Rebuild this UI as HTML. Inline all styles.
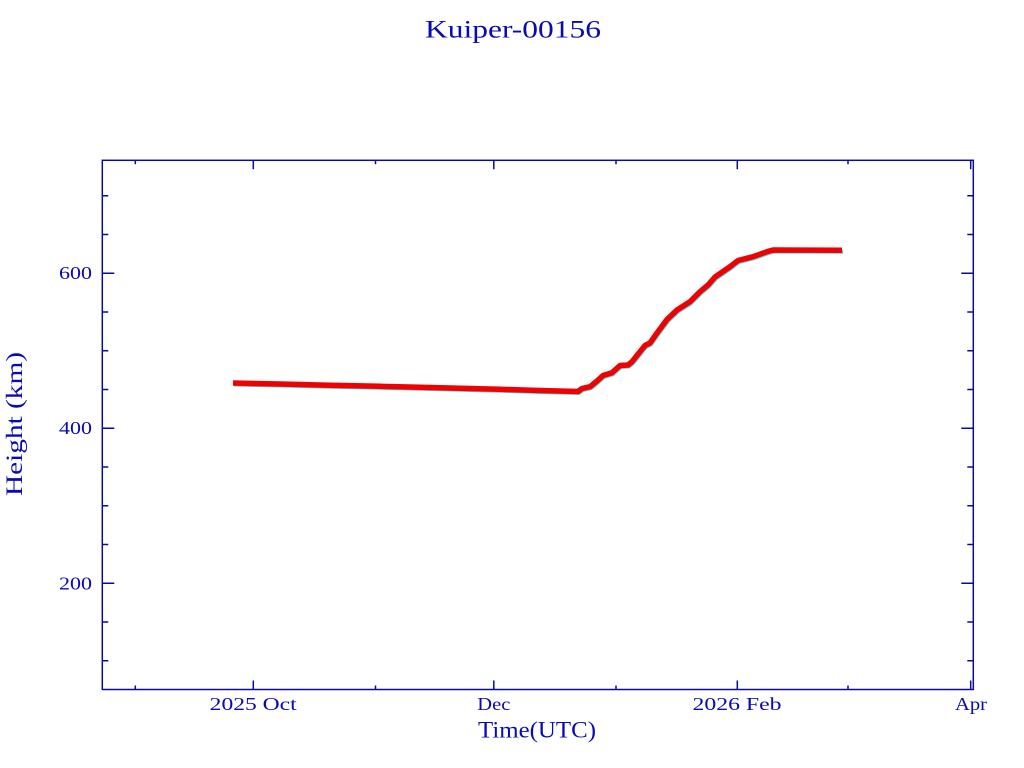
<!DOCTYPE html>
<html>
<head>
<meta charset="utf-8">
<style>
  html,body{margin:0;padding:0;background:#fff;}
  svg{display:block;}
  text{font-family:"Liberation Serif",serif;fill:#0a0ab4;}
</style>
</head>
<body>
<svg width="1024" height="768" viewBox="0 0 1024 768" xmlns="http://www.w3.org/2000/svg">
  <rect width="1024" height="768" fill="#fff"/>
  <!-- title -->
  <text x="425" y="37.5" font-size="25" textLength="176" lengthAdjust="spacingAndGlyphs" fill="#1010c8">Kuiper-00156</text>

  <!-- frame -->
  <g stroke="#0a0aa0" stroke-width="1.5" fill="none">
    <rect x="102.3" y="160.3" width="871" height="529.2"/>
    <!-- left y ticks -->
    <path d="M102.3 195.8h6 M102.3 234.5h6 M102.3 273.3h12 M102.3 312h6 M102.3 350.8h6 M102.3 389.5h6 M102.3 428.3h12 M102.3 467h6 M102.3 505.8h6 M102.3 544.5h6 M102.3 583.3h12 M102.3 622h6 M102.3 660.8h6"/>
    <!-- right y ticks -->
    <path d="M973.3 195.8h-6 M973.3 234.5h-6 M973.3 273.3h-12 M973.3 312h-6 M973.3 350.8h-6 M973.3 389.5h-6 M973.3 428.3h-12 M973.3 467h-6 M973.3 505.8h-6 M973.3 544.5h-6 M973.3 583.3h-12 M973.3 622h-6 M973.3 660.8h-6"/>
    <!-- bottom x ticks -->
    <path d="M135.3 689.5v-4 M253.3 689.5v-9 M375.5 689.5v-4 M493.8 689.5v-9 M616 689.5v-4 M737.3 689.5v-9 M848 689.5v-4 M970.7 689.5v-9"/>
    <!-- top x ticks -->
    <path d="M135.3 160.3v4 M253.3 160.3v9 M375.5 160.3v4 M493.8 160.3v9 M616 160.3v4 M737.3 160.3v9 M848 160.3v4 M970.7 160.3v9"/>
  </g>

  <!-- y tick labels -->
  <text x="59" y="279" font-size="18" textLength="33" lengthAdjust="spacingAndGlyphs">600</text>
  <text x="59" y="434" font-size="18" textLength="33" lengthAdjust="spacingAndGlyphs">400</text>
  <text x="59" y="589.5" font-size="18" textLength="33" lengthAdjust="spacingAndGlyphs">200</text>

  <!-- x tick labels -->
  <text x="209.7" y="710" font-size="18" textLength="87" lengthAdjust="spacingAndGlyphs">2025 Oct</text>
  <text x="477.3" y="710" font-size="18" textLength="33" lengthAdjust="spacingAndGlyphs">Dec</text>
  <text x="692.5" y="710" font-size="18" textLength="89" lengthAdjust="spacingAndGlyphs">2026 Feb</text>
  <text x="955" y="710" font-size="18" textLength="32" lengthAdjust="spacingAndGlyphs">Apr</text>

  <!-- axis titles -->
  <text x="478" y="737.5" font-size="23" textLength="118" lengthAdjust="spacingAndGlyphs">Time(UTC)</text>
  <text transform="translate(22,496) rotate(-90)" x="0" y="0" font-size="23" textLength="144" lengthAdjust="spacingAndGlyphs">Height (km)</text>

  <!-- data -->
  <g fill="none" stroke-linejoin="round">
    <polyline transform="translate(1,1.5)" stroke="#40d8e0" stroke-width="4" points="233,383 280,384 330,385.2 380,386.3 420,387.3 460,388.3 500,389.3 540,390.5 578,391.5 582,388.5 590,386.7 597,381 603,375.5 612,372.7 620,365.5 628,365 632,361.7 640,351.7 645,345.5 650,343 657,333 667,319.5 677,310 690,301.7 700,291.7 708,285 715,277 730,266.7 738,260.5 753,256.7 767,251.7 773,250 842,250.3"/>
    <polyline stroke="#f00000" stroke-width="5.5" points="233,383 280,384 330,385.2 380,386.3 420,387.3 460,388.3 500,389.3 540,390.5 578,391.5 582,388.5 590,386.7 597,381 603,375.5 612,372.7 620,365.5 628,365 632,361.7 640,351.7 645,345.5 650,343 657,333 667,319.5 677,310 690,301.7 700,291.7 708,285 715,277 730,266.7 738,260.5 753,256.7 767,251.7 773,250 842,250.3"/>
  </g>
</svg>
</body>
</html>
